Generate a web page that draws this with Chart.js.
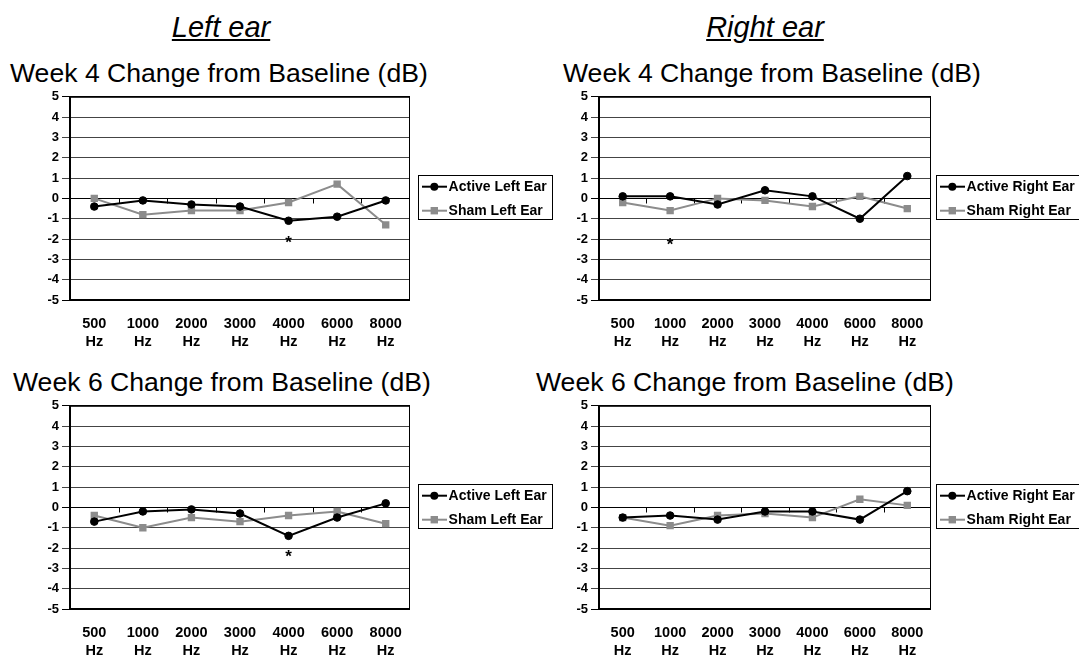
<!DOCTYPE html>
<html>
<head>
<meta charset="utf-8">
<script src="https://cdn.jsdelivr.net/npm/chart.js@4.4.1/dist/chart.umd.min.js"></script>
<style>
  body { margin: 0; background: #fff; }
  #page { position: relative; width: 1079px; height: 660px; overflow: hidden; font-family: "Liberation Sans", Arial, sans-serif; color: #000; }
  .ear { position: absolute; width: 240px; text-align: center; font-size: 29px; font-style: italic; text-decoration: underline; line-height: 1; white-space: nowrap; }
  .week { position: absolute; font-size: 26.6px; line-height: 1; white-space: nowrap; }
  canvas { position: absolute; }
</style>
</head>
<body>
<div id="page">
  <div class="ear" style="left:101px; top:13px;">Left ear</div>
  <div class="ear" style="left:645px; top:13px;">Right ear</div>

  <div class="week" style="left:10px; top:60px;">Week 4 Change from Baseline (dB)</div>
  <div class="week" style="left:563px; top:60px;">Week 4 Change from Baseline (dB)</div>
  <div class="week" style="left:13px; top:369px;">Week 6 Change from Baseline (dB)</div>
  <div class="week" style="left:536px; top:369px;">Week 6 Change from Baseline (dB)</div>

  <canvas id="week4Left" width="560" height="274" style="left:0; top:86px;"></canvas>
  <canvas id="week4Right" width="539" height="274" style="left:540px; top:86px;"></canvas>
  <canvas id="week6Left" width="560" height="274" style="left:0; top:395px;"></canvas>
  <canvas id="week6Right" width="539" height="274" style="left:540px; top:395px;"></canvas>
</div>

<script>
const frequencies = ["500", "1000", "2000", "3000", "4000", "6000", "8000"];
const yMin = -5;
const yMax = 5;

const week4ActiveLeft = [-0.4, -0.1, -0.3, -0.4, -1.1, -0.9, -0.1];
const week4ShamLeft = [0.0, -0.8, -0.6, -0.6, -0.2, 0.7, -1.3];
const week4ActiveRight = [0.1, 0.1, -0.3, 0.4, 0.1, -1.0, 1.1];
const week4ShamRight = [-0.2, -0.6, 0.0, -0.1, -0.4, 0.1, -0.5];
const week6ActiveLeft = [-0.7, -0.2, -0.1, -0.3, -1.4, -0.5, 0.2];
const week6ShamLeft = [-0.4, -1.0, -0.5, -0.7, -0.4, -0.2, -0.8];
const week6ActiveRight = [-0.5, -0.4, -0.6, -0.2, -0.2, -0.6, 0.8];
const week6ShamRight = [-0.5, -0.9, -0.4, -0.3, -0.5, 0.4, 0.1];

// significance marks: [category index, value where the * sits]
const week4LeftStar = [4, -1.95];
const week4RightStar = [1, -2.05];
const week6LeftStar = [4, -2.2];

const FONT = '"Liberation Sans", Arial, sans-serif';
const SHAM_GRAY = "#8c8c8c";

Chart.defaults.font.family = FONT;
Chart.defaults.color = "#000";

const plotDecor = {
  id: "plotDecor",
  beforeDatasetsDraw(chart) {
    const { ctx, chartArea } = chart;
    const xs = chart.scales.x;
    const y0 = Math.round(chart.scales.y.getPixelForValue(0)) + 0.5;
    ctx.save();
    ctx.strokeStyle = "#000";
    ctx.lineWidth = 1;
    ctx.strokeRect(chartArea.left + 0.5, chartArea.top + 0.5, chartArea.width - 1, chartArea.height - 1);
    // small tick marks on the zero line between categories
    ctx.beginPath();
    for (let i = 1; i < frequencies.length; i++) {
      const bx = Math.round((xs.getPixelForValue(i - 1) + xs.getPixelForValue(i)) / 2) + 0.5;
      ctx.moveTo(bx, y0);
      ctx.lineTo(bx, y0 + 5);
    }
    ctx.stroke();
    ctx.restore();
  },
  afterDatasetsDraw(chart, args, opts) {
    const { ctx } = chart;
    ctx.save();

    if (opts.star) {
      const sx = chart.scales.x.getPixelForValue(opts.star[0]);
      const sy = chart.scales.y.getPixelForValue(opts.star[1]);
      ctx.font = "bold 17px " + FONT;
      ctx.textAlign = "center";
      ctx.textBaseline = "alphabetic";
      ctx.fillStyle = "#000";
      ctx.fillText("*", sx, sy + 9.8);
    }

    const box = opts.box;
    ctx.strokeStyle = "#000";
    ctx.lineWidth = 1;
    ctx.strokeRect(box.x + 0.5, box.y + 0.5, box.w, box.h);

    const rows = [
      { label: chart.data.datasets[0].label, color: "#000", shape: "circle", y: box.y + 11.7 },
      { label: chart.data.datasets[1].label, color: SHAM_GRAY, shape: "rect", y: box.y + 35.7 }
    ];
    rows.forEach((row) => {
      ctx.strokeStyle = row.color;
      ctx.fillStyle = row.color;
      ctx.lineWidth = 2;
      ctx.beginPath();
      ctx.moveTo(box.x + 4, row.y);
      ctx.lineTo(box.x + 29, row.y);
      ctx.stroke();
      const mx = box.x + 16.3;
      if (row.shape === "circle") {
        ctx.beginPath();
        ctx.arc(mx, row.y, 4, 0, Math.PI * 2);
        ctx.fill();
      } else {
        ctx.fillRect(mx - 3.7, row.y - 3.7, 7.4, 7.4);
      }
      ctx.fillStyle = "#000";
      ctx.font = "bold 14px " + FONT;
      ctx.textAlign = "left";
      ctx.textBaseline = "middle";
      ctx.fillText(row.label, box.x + 30.6, row.y + 0.5);
    });

    ctx.restore();
  }
};

function makeEarChart(canvasId, activeData, shamData, side, star, axisWidth, rightPad, legendBox) {
  return new Chart(document.getElementById(canvasId), {
    type: "line",
    data: {
      labels: frequencies.map((f) => [f, "Hz"]),
      datasets: [
        {
          label: "Active " + side + " Ear",
          data: activeData,
          borderColor: "#000",
          borderWidth: 2,
          pointStyle: "circle",
          pointRadius: 3.8,
          pointBackgroundColor: "#000",
          pointBorderColor: "#000",
          pointBorderWidth: 1,
          tension: 0
        },
        {
          label: "Sham " + side + " Ear",
          data: shamData,
          borderColor: SHAM_GRAY,
          borderWidth: 2,
          pointStyle: "rect",
          pointRadius: 5.2,
          pointBackgroundColor: SHAM_GRAY,
          pointBorderColor: SHAM_GRAY,
          pointBorderWidth: 0,
          tension: 0
        }
      ]
    },
    options: {
      responsive: false,
      animation: false,
      layout: { padding: { top: 10, left: 0, right: rightPad, bottom: 0 } },
      plugins: {
        legend: { display: false },
        tooltip: { enabled: false },
        plotDecor: { star: star, box: legendBox }
      },
      scales: {
        x: {
          offset: true,
          afterFit(scale) { scale.height = 60; },
          grid: { display: false, drawTicks: false },
          border: { display: false },
          ticks: {
            color: "#000",
            font: { size: 14.5, weight: "bold", lineHeight: 1.22 },
            padding: 15,
            maxRotation: 0,
            autoSkip: false
          }
        },
        y: {
          min: yMin,
          max: yMax,
          afterFit(scale) { scale.width = axisWidth; },
          ticks: { stepSize: 1, color: "#000", font: { size: 13, weight: "bold" }, padding: 3 },
          grid: {
            color: (ctx) => (ctx.tick && (ctx.tick.value === 0 || ctx.tick.value === yMin || ctx.tick.value === yMax) ? "#000" : "#444"),
            lineWidth: 1,
            tickLength: 8
          },
          border: { display: true, color: "#000", width: 2 }
        }
      }
    },
    plugins: [plotDecor]
  });
}

makeEarChart("week4Left", week4ActiveLeft, week4ShamLeft, "Left", week4LeftStar, 70, 150, { x: 418, y: 89, w: 134, h: 44 });
makeEarChart("week4Right", week4ActiveRight, week4ShamRight, "Right", week4RightStar, 59, 148, { x: 396, y: 89, w: 150, h: 44 });
makeEarChart("week6Left", week6ActiveLeft, week6ShamLeft, "Left", week6LeftStar, 70, 150, { x: 418, y: 89, w: 134, h: 44 });
makeEarChart("week6Right", week6ActiveRight, week6ShamRight, "Right", null, 59, 148, { x: 396, y: 89, w: 150, h: 44 });
</script>
</body>
</html>
